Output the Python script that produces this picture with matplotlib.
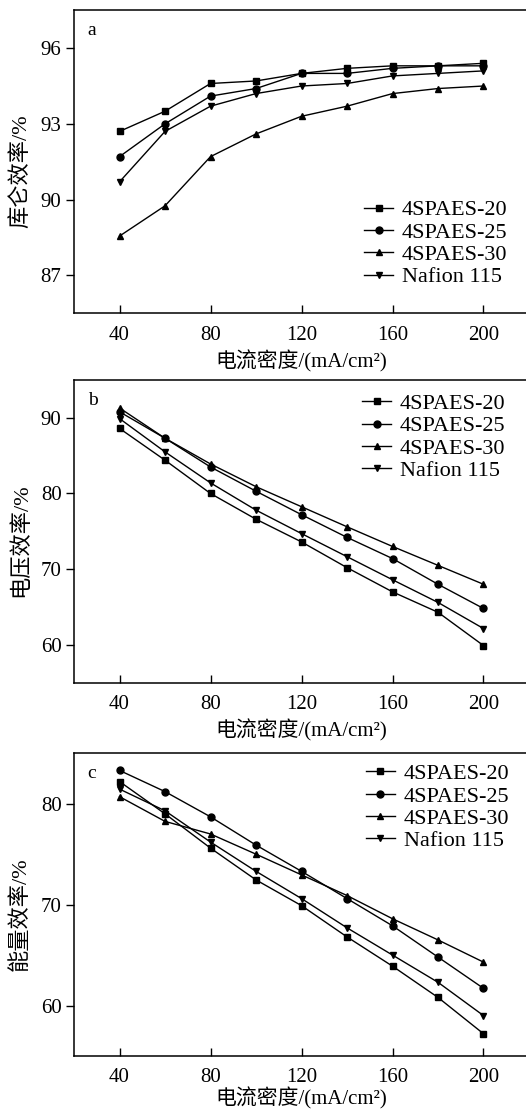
import matplotlib
matplotlib.use('Agg')
import matplotlib.pyplot as plt

plt.rcParams['font.family'] = ['Liberation Serif', 'Noto Sans CJK SC']
plt.rcParams['font.size'] = 15

# 电流密度 (mA/cm2)
current = [40, 60, 80, 100, 120, 140, 160, 180, 200]
series_names = ['4SPAES-20', '4SPAES-25', '4SPAES-30', 'Nafion 115']
markers = ['s', 'o', '^', 'v']

# a: 库仑效率
ce_20 = [92.7, 93.5, 94.6, 94.7, 95.0, 95.2, 95.3, 95.3, 95.4]
ce_25 = [91.7, 93.0, 94.1, 94.4, 95.0, 95.0, 95.2, 95.3, 95.3]
ce_30 = [88.55, 89.75, 91.7, 92.6, 93.3, 93.7, 94.2, 94.4, 94.5]
ce_naf = [90.7, 92.7, 93.7, 94.2, 94.5, 94.6, 94.9, 95.0, 95.1]

# b: 电压效率
ve_20 = [88.6, 84.4, 80.0, 76.6, 73.6, 70.2, 67.0, 64.3, 59.9]
ve_25 = [90.8, 87.3, 83.5, 80.3, 77.2, 74.2, 71.4, 68.0, 64.8]
ve_30 = [91.3, 87.3, 83.9, 80.9, 78.25, 75.6, 73.0, 70.5, 68.0]
ve_naf = [89.9, 85.5, 81.4, 77.8, 74.7, 71.65, 68.6, 65.6, 62.15]

# c: 能量效率
ee_20 = [82.2, 79.0, 75.6, 72.45, 69.9, 66.8, 63.9, 60.8, 57.2]
ee_25 = [83.3, 81.2, 78.7, 75.9, 73.3, 70.6, 67.9, 64.8, 61.7]
ee_30 = [80.7, 78.25, 77.0, 75.0, 72.95, 70.9, 68.6, 66.5, 64.3]
ee_naf = [81.45, 79.3, 76.2, 73.3, 70.6, 67.7, 65.0, 62.3, 59.0]

panels = [
    ('a', '库仑效率/%', [ce_20, ce_25, ce_30, ce_naf], (85.5, 97.5), [87, 90, 93, 96]),
    ('b', '电压效率/%', [ve_20, ve_25, ve_30, ve_naf], (55, 95), [60, 70, 80, 90]),
    ('c', '能量效率/%', [ee_20, ee_25, ee_30, ee_naf], (55, 85), [60, 70, 80]),
]

fig = plt.figure(figsize=(5.26, 11.12), dpi=100)
bottoms = [0.7185, 0.3861, 0.0504]
H = 0.2722
# legend corner (axes coords) and which corner it is
legend_pos = [('lower left', (0.618, 0.055)), ('upper left', (0.614, 0.985)), ('upper left', (0.622, 0.995))]
xlabel_pad = [4, 4, 0]

for (tag, ylab, data, ylim, yticks), b, (loc, anc), lp in zip(panels, bottoms, legend_pos, xlabel_pad):
    ax = fig.add_axes([0.1407, b, 0.865, H])
    for vals, name, m in zip(data, series_names, markers):
        ax.plot(current, vals, color='black', lw=1.0, marker=m, ms=5, label=name)
    ax.set_xlim(20, 220)
    ax.set_ylim(*ylim)
    ax.set_xticks([40, 80, 120, 160, 200])
    ax.set_yticks(yticks)
    ax.tick_params(axis='x', direction='in', length=6, width=1, pad=9)
    ax.tick_params(axis='y', direction='out', length=6, width=1, pad=3)
    for s in ax.spines.values():
        s.set_linewidth(1.1)
    ax.set_xlabel('电流密度/(mA/cm²)', labelpad=lp)
    ax.set_ylabel(ylab, fontsize=16)
    ax.yaxis.set_label_coords(-0.095, 0.47)
    ax.text(0.03, 0.96, tag, transform=ax.transAxes, ha='left', va='top', fontsize=14)
    ax.legend(loc=loc, bbox_to_anchor=anc, frameon=False,
              handlelength=1.3, handletextpad=0.4, labelspacing=0.08,
              borderaxespad=0, fontsize=16)

fig.savefig('out.png', dpi=100)
